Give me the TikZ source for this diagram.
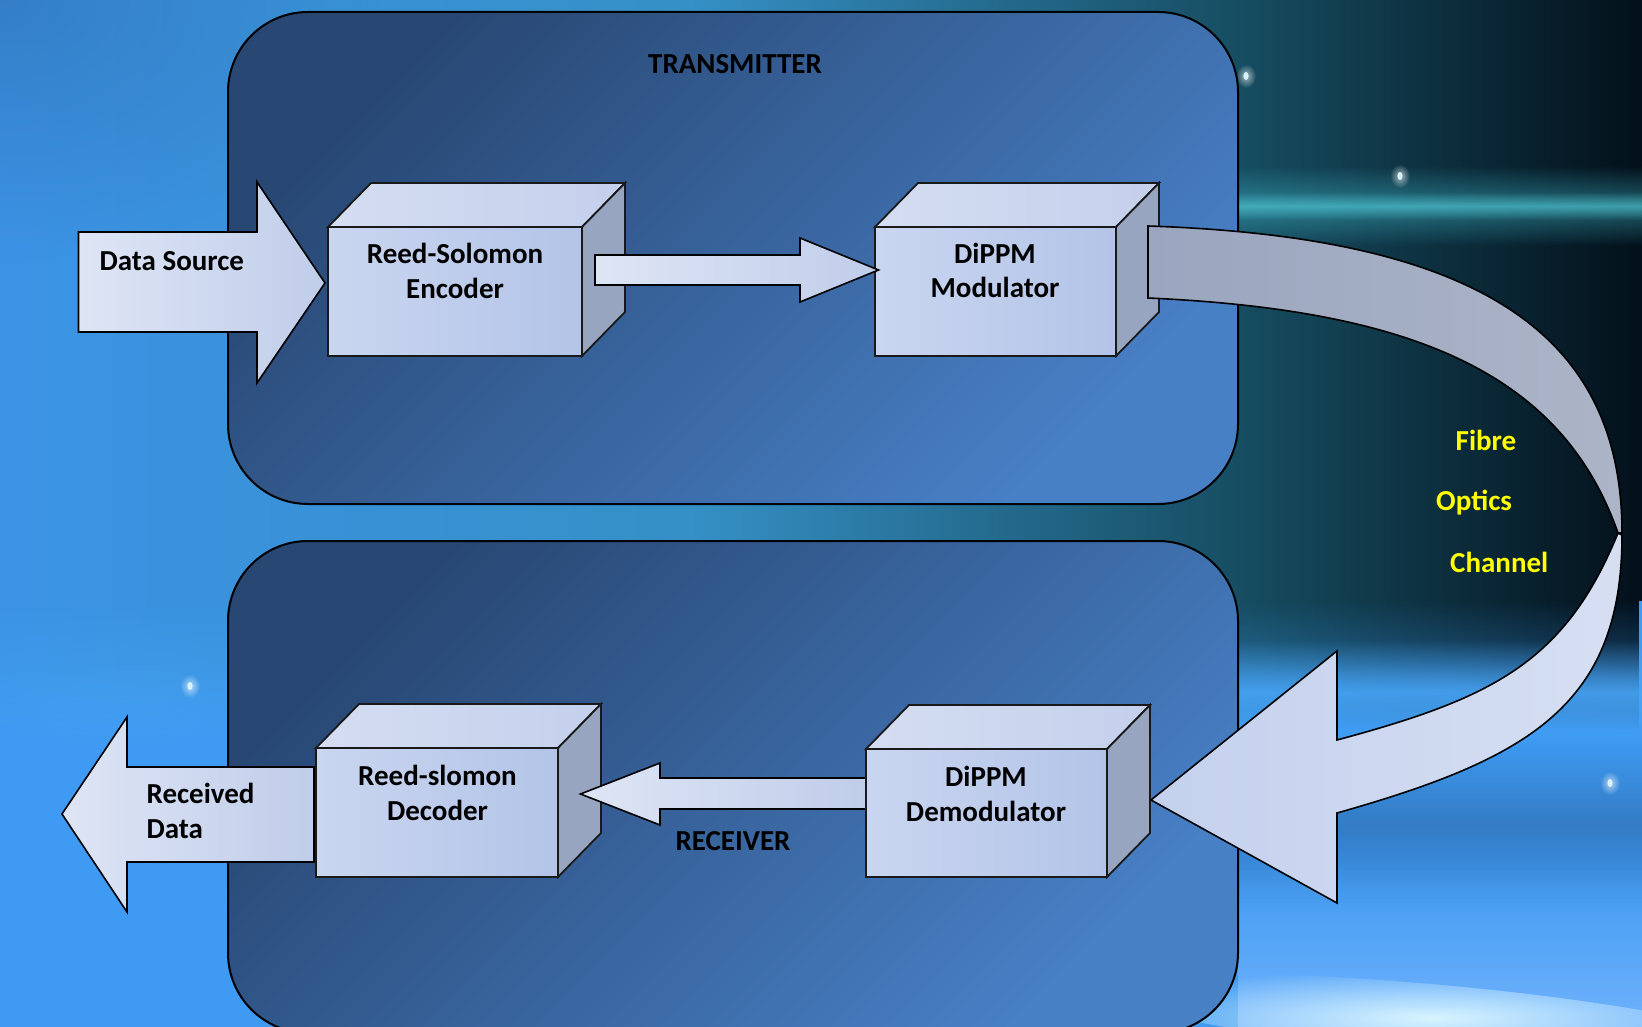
\documentclass[tikz,border=0pt]{standalone}
\usepackage{fontspec}
\setmainfont{Carlito}
\usetikzlibrary{fadings}

\definecolor{bgBase}{HTML}{3E9AF2}
\definecolor{bgA}{HTML}{3C93E6}
\definecolor{bgB}{HTML}{3590C6}
\definecolor{bgC}{HTML}{164C60}
\definecolor{bgD}{HTML}{03101A}
\definecolor{cornerDark}{HTML}{2E6EB0}
\definecolor{cyanStreak}{HTML}{3FB6C6}
\definecolor{cyanCore}{HTML}{52C6D2}
\definecolor{midBlue}{HTML}{2A5E98}
\definecolor{brightStreak}{HTML}{4AA8FA}
\definecolor{lightBR}{HTML}{7CB8FF}
\definecolor{whiteStreak}{HTML}{DDF8FF}
\definecolor{leftGlow}{HTML}{58BEFF}
\definecolor{panelDark}{HTML}{284773}
\definecolor{panelLight}{HTML}{4880C6}
\definecolor{frontL}{HTML}{CAD6F0}
\definecolor{frontR}{HTML}{B3C4E8}
\definecolor{topL}{HTML}{D4DDF1}
\definecolor{topR}{HTML}{C4D0EC}
\definecolor{sideC}{HTML}{97A5C0}
\definecolor{arrL}{HTML}{DEE5F5}
\definecolor{arrR}{HTML}{C0CDEA}
\definecolor{bandL}{HTML}{9AA6BF}
\definecolor{bandR}{HTML}{ACB4C7}
\definecolor{lowL}{HTML}{C4D1EE}
\definecolor{lowR}{HTML}{D6DFF2}
\definecolor{fibreYellow}{HTML}{FFFF00}

\tikzfading[name=fadedown, top color=transparent!0, bottom color=transparent!100, middle color=transparent!30]
\tikzfading[name=fadeup, top color=transparent!100, bottom color=transparent!0]
\tikzfading[name=bandfade, top color=transparent!100, bottom color=transparent!100, middle color=transparent!0]
\tikzfading[name=softglow, inner color=transparent!0, outer color=transparent!100]

\pgfdeclarehorizontalshading{topbg}{100bp}{color(0bp)=(bgA); color(25bp)=(bgA); color(46bp)=(bgB); color(63bp)=(bgC); color(75bp)=(bgD); color(100bp)=(bgD)}

\tikzset{
  panel/.style={rectangle, draw=black, line width=2pt, rounded corners=80pt,
    inner sep=0pt, outer sep=0pt, top color=panelDark, bottom color=panelLight, shading angle=45},
  cubefront/.style={rectangle, draw=black!90, line width=1.8pt, inner sep=0pt, outer sep=0pt,
    left color=frontL, right color=frontR},
  cubetop/.style={draw=black!90, line width=1.8pt, line join=miter, left color=topL, right color=topR},
  cubeside/.style={draw=black!90, line width=1.8pt, line join=miter, fill=sideC},
  blockarrow/.style={draw=black, line width=1.6pt, line join=miter, left color=arrL, right color=arrR},
  bandup/.style={draw=black, line width=1.6pt, line join=miter, left color=bandL, right color=bandR},
  bandlow/.style={draw=black, line width=1.6pt, line join=miter, left color=lowL, right color=lowR},
  lbl/.style={font=\fontsize{29}{35}\selectfont\bfseries, inner sep=0pt, anchor=base, text=black},
  lblw/.style={lbl, anchor=base west},
  fibre/.style={lblw, text=fibreYellow},
}

\newcommand{\drawcube}[5]{%
  \node[cubefront, minimum width=#4pt, minimum height=#5pt] (#1) at (#2,#3) {};
  \path[cubetop] (#1.north west) -- ++(43,-44) coordinate (#1-tl)
      -- ([shift={(43,-44)}]#1.north east) coordinate (#1-tr) -- (#1.north east) -- cycle;
  \path[cubeside] (#1.north east) -- (#1-tr)
      -- ([shift={(43,-44)}]#1.south east) coordinate (#1-br) -- (#1.south east) -- cycle;
}

\begin{document}
\begin{tikzpicture}[x=1pt,y=-1pt]
\useasboundingbox (0,0) rectangle (1642,1027);
\clip (0,0) rectangle (1642,1027);

% ---------- background ----------
\fill[bgBase] (0,0) rectangle (1642,1027);
\fill[leftGlow, opacity=0.45, path fading=softglow] (120,640) ellipse (260 and 110);
\shade[shading=topbg] (0,0) rectangle (1642,600);
\shade[shading=topbg, path fading=fadedown] (0,599) rectangle (1642,730);
\fill[cornerDark, opacity=0.55, path fading=softglow] (0,0) ellipse (380 and 260);
\fill[cyanStreak, opacity=0.5, path fading=bandfade] (1238,166) rectangle (1642,246);
\fill[cyanCore, opacity=0.6, path fading=bandfade] (1238,192) rectangle (1642,220);
\fill[midBlue, opacity=0.5, path fading=bandfade] (1238,740) rectangle (1642,910);
\fill[brightStreak, opacity=0.8, path fading=bandfade] (1238,640) rectangle (1642,745);
\fill[lightBR, opacity=0.8, path fading=fadeup] (1238,860) rectangle (1642,1027);
\fill[whiteStreak, opacity=0.95, path fading=softglow, rotate around={-5:(1430,1018)}] (1430,1018) ellipse (330 and 34);
\foreach \sx/\sy in {1246/76, 1400/176, 190/686, 1610/783} {
  \fill[white, opacity=0.6, path fading=softglow] (\sx,\sy) ellipse (10 and 12);
  \fill[white!85!cyan] (\sx,\sy) ellipse (2.6 and 4);
}

% ---------- panels ----------
\node[panel, minimum width=1010pt, minimum height=492pt] (tx) at (733,258) {};
\node[panel, minimum width=1010pt, minimum height=492pt] (rx) at (733,787) {};
\node[lbl] (txlabel) at (735,74) {TRANSMITTER};
\node[lbl] (rxlabel) at (733,850) {RECEIVER};

% ---------- transmitter chain ----------
\path[blockarrow] (78.5,232) -- (257,232) -- (257,182) -- (325,283) -- (257,383) -- (257,332) -- (78.5,332) -- cycle;
\node[lblw] (srclabel) at (99.4,270.7) {Data Source};

\drawcube{enc}{455}{291.5}{254}{129}
\drawcube{mod}{995.5}{291.5}{241}{129}

\path[blockarrow] (595,255) -- (800,255) -- (800,238) -- (878.5,270) -- (800,302) -- (800,285) -- (595,285) -- cycle;

\node[lbl] (enc1) at (455,263.3) {Reed-Solomon};
\node[lbl] (enc2) at (455,298.3) {Encoder};
\node[lbl] (mod1) at (995,263.3) {DiPPM};
\node[lbl] (mod2) at (995,297.7) {Modulator};

% ---------- receiver chain ----------
\path[blockarrow] (314,767) -- (127,767) -- (127,717) -- (62,814) -- (127,912) -- (127,862) -- (314,862) -- cycle;
\node[lblw] (out1) at (146.4,803.3) {Received};
\node[lblw] (out2) at (146.4,838.3) {Data};

\drawcube{dec}{437}{812.5}{242}{129}
\path[blockarrow] (866,778) -- (660,778) -- (660,763) -- (580.5,794) -- (660,825) -- (660,809) -- (866,809) -- cycle;
\drawcube{demod}{986.5}{813}{241}{128}

\node[lbl] (dec1) at (437.5,785) {Reed-slomon};
\node[lbl] (dec2) at (437.5,820) {Decoder};
\node[lbl] (dem1) at (986,786.7) {DiPPM};
\node[lbl] (dem2) at (986,821.7) {Demodulator};

% ---------- fibre channel ----------
\coordinate (fStartTop) at (1148,226);
\coordinate (fStartBot) at (1148,298);
\coordinate (fCuspOut) at (1622,533);
\coordinate (fCuspIn) at (1618,533);
\path[bandup] (fStartTop) .. controls (1478,237) and (1622,333) .. (fCuspOut)
  -- (fCuspIn) .. controls (1561.9,373.2) and (1413,309.9) .. (fStartBot) -- cycle;
\path[bandlow] (fCuspIn) .. controls (1564.8,663.2) and (1491.4,698.4) .. (1337,740)
  -- (1337,651) -- (1151,800) -- (1337,903) -- (1337,813)
  .. controls (1529.4,758.6) and (1622,705) .. (1622,535) -- cycle;

\node[fibre] (f1) at (1455.5,450) {Fibre};
\node[fibre] (f2) at (1436,510.5) {Optics};
\node[fibre] (f3) at (1450,572.3) {Channel};
\end{tikzpicture}
\end{document}
